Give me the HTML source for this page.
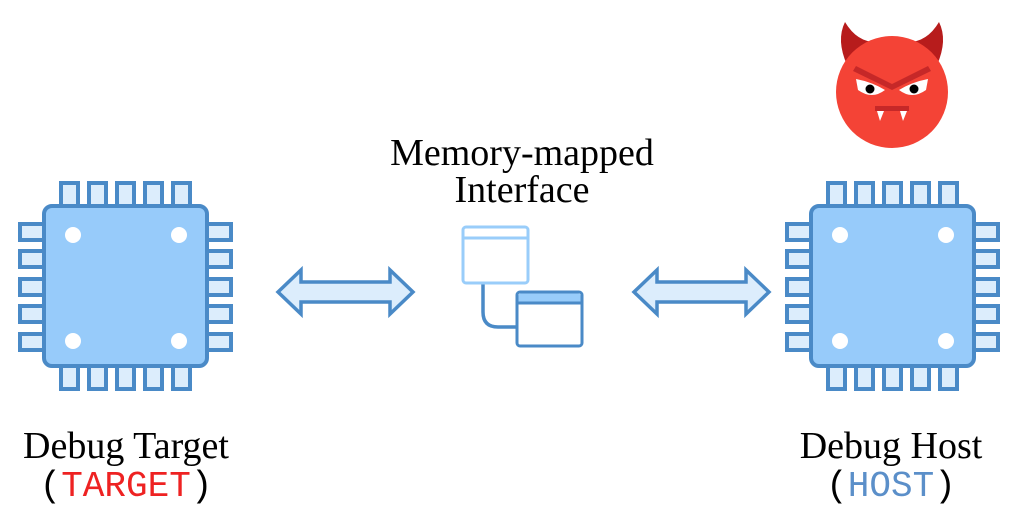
<!DOCTYPE html>
<html><head><style>
body{margin:0;width:1021px;height:521px;background:#fff;overflow:hidden}
svg{position:absolute;left:0;top:0}
.s{font-family:"Liberation Serif",serif;font-size:38px;fill:#000}
.m{font-family:"Liberation Mono",monospace;font-size:36px;font-weight:300}
</style></head><body>
<svg width="1021" height="521" viewBox="0 0 1021 521">
<defs>
<g id="chip">
  <g fill="#dcedfc" stroke="#4a8ac7" stroke-width="4">
    <rect x="61" y="183" width="17" height="24"/><rect x="89" y="183" width="17" height="24"/><rect x="117" y="183" width="17" height="24"/><rect x="145" y="183" width="17" height="24"/><rect x="173" y="183" width="17" height="24"/>
    <rect x="61" y="365" width="17" height="24"/><rect x="89" y="365" width="17" height="24"/><rect x="117" y="365" width="17" height="24"/><rect x="145" y="365" width="17" height="24"/><rect x="173" y="365" width="17" height="24"/>
    <rect x="20" y="224" width="25" height="16"/><rect x="20" y="251" width="25" height="16"/><rect x="20" y="279" width="25" height="16"/><rect x="20" y="306" width="25" height="16"/><rect x="20" y="334" width="25" height="16"/>
    <rect x="206" y="224" width="25" height="16"/><rect x="206" y="251" width="25" height="16"/><rect x="206" y="279" width="25" height="16"/><rect x="206" y="306" width="25" height="16"/><rect x="206" y="334" width="25" height="16"/>
  </g>
  <rect x="44" y="206" width="163" height="160" rx="8" fill="#97cbfa" stroke="#4a8ac7" stroke-width="4"/>
  <g fill="#fff"><circle cx="73" cy="235" r="8"/><circle cx="179" cy="235" r="8"/><circle cx="73" cy="341" r="8"/><circle cx="179" cy="341" r="8"/></g>
</g>
<path id="arr" d="M0 0 L23 -22 L23 -10 L112 -10 L112 -22 L135 0 L112 22 L112 10 L23 10 L23 22 Z" fill="#dcedfc" stroke="#4a8ac7" stroke-width="3.5" stroke-linejoin="miter"/>
</defs>
<use href="#chip"/>
<use href="#chip" transform="translate(767 0)"/>
<use href="#arr" transform="translate(278 292)"/>
<use href="#arr" transform="translate(634 292)"/>
<path d="M483 283 V312 Q483 327 498 327 H517" fill="none" stroke="#4a8ac7" stroke-width="3.5"/>
<rect x="463" y="227" width="65" height="56" rx="3" fill="#fff" stroke="#99cdfa" stroke-width="3"/>
<line x1="463" y1="238" x2="528" y2="238" stroke="#99cdfa" stroke-width="3"/>
<rect x="517" y="292" width="65" height="54" rx="3" fill="#fff" stroke="#4a8ac7" stroke-width="3"/>
<path d="M518.5 303 V296 Q518.5 293.5 521 293.5 H578 Q580.5 293.5 580.5 296 V303 Z" fill="#98ccfa"/>
<line x1="517" y1="303" x2="582" y2="303" stroke="#4a8ac7" stroke-width="3"/>
<!-- devil -->
<path d="M847 65 Q836 40 845 22 Q858 44 880 42 Z" fill="#b71c1c"/>
<path d="M937 65 Q948 40 939 22 Q926 44 904 42 Z" fill="#b71c1c"/>
<circle cx="892" cy="92" r="56" fill="#f44336"/>
<path d="M853 71 L856 66 L892 84 L928 66 L931 71 L892 90 Z" fill="#c62828"/>
<path d="M856 79 Q872 82 885 90 Q872 100 858 90 Z" fill="#fff"/>
<path d="M928 79 Q912 82 899 90 Q912 100 926 90 Z" fill="#fff"/>
<circle cx="870" cy="89" r="4.5" fill="#000"/><circle cx="914" cy="89" r="4.5" fill="#000"/>
<rect x="875" y="106" width="34" height="5" fill="#c62828"/>
<path d="M877 111 L884 111 L880 121 Z" fill="#fff"/>
<path d="M900 111 L907 111 L903 121 Z" fill="#fff"/>
<text class="s" x="522" y="165" text-anchor="middle">Memory-mapped</text>
<text class="s" x="522" y="202" text-anchor="middle">Interface</text>
<text class="s" x="126" y="458" text-anchor="middle">Debug Target</text>
<text class="s" x="891" y="458" text-anchor="middle">Debug Host</text>
<text class="m" x="126" y="496" text-anchor="middle">(<tspan fill="#ee2222">TARGET</tspan>)</text>
<text class="m" x="891" y="496" text-anchor="middle">(<tspan fill="#5b8fc9">HOST</tspan>)</text>
</svg>
</body></html>
